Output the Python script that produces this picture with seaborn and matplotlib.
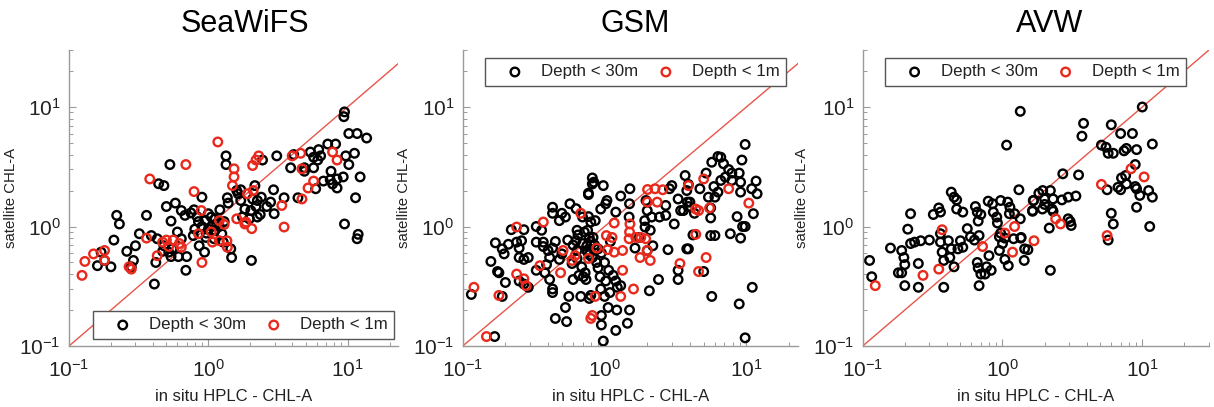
import numpy as np
import pandas as pd
import matplotlib
matplotlib.use("Agg")
import matplotlib.pyplot as plt
import seaborn as sns
from matplotlib.ticker import FuncFormatter, LogLocator, NullFormatter

# ---------------- data: (in situ HPLC chl-a, satellite chl-a) ----------------
seawifs_deep_insitu = [1.34, 1.34, 0.53, 0.44, 0.48, 0.90, 0.58, 0.50, 0.64, 0.68, 0.79, 0.83, 0.54, 0.36,
                       0.22, 0.23, 0.32, 0.39, 0.21, 0.30, 0.26, 0.17, 0.18, 0.16, 0.20, 0.29, 0.28, 0.42,
                       0.41, 0.69, 0.61, 0.70, 0.54, 0.43, 0.48, 0.52, 0.64, 0.78, 0.96, 0.86, 0.94, 1.06,
                       1.12, 1.21, 1.00, 0.95, 1.12, 1.25, 1.37, 1.39, 1.47, 1.45, 1.28, 1.10, 1.60,
                       9.5, 9.4, 10.2, 11.7, 13.7, 7.2, 8.2, 6.2, 5.4, 5.7, 6.4, 6.1, 4.1, 3.1, 2.45, 3.9,
                       4.9, 5.7, 4.9, 9.7, 11.2, 10.2, 7.6, 7.5, 8.4, 9.3, 6.7, 7.8, 8.4, 5.9, 12.3, 11.4,
                       9.5, 11.9, 11.7, 4.4, 3.5, 2.94, 2.8, 2.4, 2.63, 2.97, 2.25, 2.2, 2.02, 2.36, 1.97,
                       2.25, 1.71, 1.64, 1.71, 2.08, 2.16, 1.83, 1.76, 2.04,
                       0.90, 1.00, 1.15, 0.85, 1.05, 0.97, 1.20, 0.80, 1.30, 0.75, 0.60, 0.55, 0.47]
seawifs_deep_sat = [3.9, 3.3, 3.3, 2.28, 2.2, 1.76, 1.57, 1.47, 1.36, 1.24, 1.38, 1.21, 1.11, 1.24,
                    1.24, 1.05, 0.87, 0.84, 0.77, 0.69, 0.62, 0.61, 0.52, 0.47, 0.46, 0.52, 0.46, 0.50,
                    0.33, 0.43, 0.56, 0.56, 0.56, 0.79, 0.69, 0.61, 0.79, 0.84, 0.81, 0.69, 0.61, 1.00,
                    1.16, 1.38, 1.28, 1.12, 0.93, 0.87, 1.74, 1.57, 0.55, 0.65, 0.74, 0.79, 2.00,
                    9.1, 8.3, 6.0, 6.0, 5.5, 4.9, 4.9, 4.4, 4.2, 3.8, 3.9, 3.6, 4.0, 3.9, 3.6, 3.1,
                    3.1, 3.1, 2.9, 3.9, 4.1, 3.3, 2.9, 2.46, 2.5, 2.6, 2.4, 2.27, 2.1, 2.07, 2.6, 1.74,
                    1.05, 0.86, 0.79, 1.74, 1.74, 2.03, 1.6, 1.76, 1.47, 1.28, 1.65, 1.47, 1.36, 1.26, 1.16,
                    1.2, 2.03, 1.88, 1.65, 1.7, 2.2, 1.4, 1.2, 0.52,
                    1.00, 0.95, 1.05, 1.10, 1.20, 0.88, 1.00, 0.95, 1.10, 1.30, 0.90, 0.65, 0.62]
seawifs_surf_insitu = [0.124, 0.13, 0.15, 0.18, 0.18, 0.27, 0.28, 0.38, 0.36, 0.43, 0.47, 0.50, 0.56, 0.64,
                       0.69, 0.79, 0.89, 0.90, 0.85, 1.05, 1.07, 1.17, 1.20, 1.20, 1.30, 1.36, 1.53, 1.53,
                       1.49, 1.60, 1.86, 1.91, 2.08, 2.20, 2.30, 2.05, 2.10, 3.37, 3.50, 4.0, 4.6, 4.7, 4.7,
                       5.2, 5.7, 7.8, 8.4, 1.83, 1.37, 0.62, 0.52]
seawifs_surf_sat = [0.39, 0.51, 0.59, 0.63, 0.52, 0.46, 0.44, 2.5, 0.80, 0.57, 0.74, 0.77, 0.77, 0.67,
                    3.3, 1.96, 1.36, 0.50, 0.87, 0.90, 0.74, 5.1, 1.12, 0.76, 1.04, 0.76, 3.04, 2.6,
                    2.2, 1.16, 1.09, 1.88, 3.24, 3.6, 3.9, 0.96, 2.0, 1.5, 0.99, 3.9, 4.1, 3.04, 1.7,
                    2.1, 2.4, 4.2, 3.6, 1.05, 0.67, 0.72, 0.68]

gsm_deep_insitu = [0.115, 0.168, 0.158, 0.176, 0.18, 0.19, 0.17, 0.19, 0.196, 0.21, 0.20, 0.22, 0.24, 0.25,
                   0.26, 0.27, 0.25, 0.27, 0.29, 0.25, 0.27, 0.29, 0.33, 0.33, 0.33, 0.37, 0.37, 0.36,
                   0.40, 0.41, 0.39, 0.38, 0.41, 0.43, 0.43, 0.43, 0.43, 0.48, 0.50, 0.57, 0.53, 0.45,
                   0.50, 0.48, 0.43, 0.55, 0.63, 0.64, 0.64, 0.64, 0.59, 0.66, 0.60, 0.56, 0.53, 0.45,
                   0.54, 0.68, 0.70, 0.63, 0.76, 0.78, 0.75, 0.74, 0.78, 0.80, 0.77, 0.84,
                   0.82, 0.82, 0.98, 0.77, 1.02, 0.94, 1.04, 1.30, 1.51, 1.50, 1.20, 1.49, 0.77, 0.86,
                   0.83, 0.75, 0.76, 0.82, 0.69, 0.73, 0.71, 0.93, 1.07, 1.15, 1.02, 1.20, 1.23, 0.94,
                   1.09, 1.30, 0.80, 1.00, 1.06, 1.22, 0.95, 0.95, 1.20, 1.45, 1.50, 0.98, 2.07, 2.4,
                   2.8, 3.3, 3.3, 1.93, 1.92, 2.15, 2.44, 2.7, 3.1, 2.7, 3.3, 2.87, 2.98, 3.44, 3.84,
                   3.9, 3.9, 1.76, 2.19, 2.0, 2.1, 1.64, 1.96, 2.0,
                   9.8, 6.3, 6.6, 5.7, 6.9, 7.5, 7.9, 8.9, 9.3, 7.1, 6.6, 7.9, 9.1, 11.7, 10.9, 11.9,
                   9.1, 5.9, 6.3, 6.0, 5.4, 4.7, 5.2, 3.7, 3.8, 4.0, 3.9, 3.6, 4.3, 5.6, 5.6, 8.6, 9.4,
                   9.8, 9.1, 11.2, 7.7, 4.2, 5.6, 6.0, 3.8, 5.0, 5.7, 8.9, 11.0, 9.8,
                   0.72, 0.80, 0.85, 0.90, 0.70, 0.78, 0.88, 0.95, 0.65, 0.60, 1.10, 1.00, 0.90]
gsm_deep_sat = [0.27, 0.12, 0.51, 0.42, 0.41, 0.26, 0.73, 0.65, 0.59, 0.71, 0.34, 0.94, 0.74, 0.66,
                0.76, 0.94, 0.55, 0.53, 0.55, 0.35, 0.33, 0.31, 1.00, 0.74, 0.43, 0.74, 0.68, 0.93,
                0.63, 0.55, 0.48, 0.41, 0.36, 0.30, 0.28, 1.45, 1.29, 1.12, 1.29, 1.55, 1.20, 0.75,
                0.59, 0.53, 0.66, 0.77, 0.76, 0.93, 0.63, 0.54, 0.49, 0.39, 0.36, 0.26, 0.21, 0.17,
                0.16, 0.26, 1.20, 1.41, 0.93, 0.81, 0.63, 0.36, 0.25, 1.09, 1.85, 2.35,
                2.55, 2.27, 2.2, 1.9, 1.55, 1.4, 1.65, 1.8, 2.07, 1.55, 1.32, 1.2, 1.21, 1.12,
                0.81, 0.69, 0.61, 0.55, 0.46, 0.41, 0.38, 0.38, 0.43, 0.39, 0.35, 0.35, 0.31, 0.30,
                0.28, 0.32, 0.265, 0.26, 0.21, 0.20, 0.18, 0.15, 0.135, 0.155, 0.20, 0.11, 0.29, 0.36,
                0.64, 0.43, 0.36, 0.99, 1.12, 1.2, 1.2, 1.24, 1.05, 1.5, 1.7, 2.07, 2.2, 1.36, 1.6,
                0.65, 2.25, 0.81, 0.69, 0.63, 0.93, 0.66, 1.65, 1.36,
                4.86, 3.85, 3.8, 3.45, 3.35, 3.0, 2.8, 2.8, 3.6, 2.59, 2.43, 2.43, 2.35, 2.4, 2.07, 1.88,
                1.94, 2.16, 1.94, 1.76, 1.76, 2.07, 2.8, 2.67, 2.0, 1.6, 1.47, 1.36, 1.29, 1.43, 1.18,
                1.21, 1.0, 1.0, 0.80, 1.28, 0.87, 0.85, 0.84, 0.84, 0.65, 0.42, 0.26, 0.225, 0.31, 0.117,
                0.90, 0.75, 0.70, 0.65, 0.72, 0.58, 0.50, 0.60, 0.85, 0.70, 0.75, 0.50, 0.45]
gsm_surf_insitu = [0.12, 0.147, 0.18, 0.24, 0.24, 0.27, 0.28, 0.37, 0.35, 0.49, 0.51, 0.59, 0.62, 0.68,
                   0.77, 0.80, 1.17, 1.51, 1.50, 1.49, 1.66, 1.80, 1.95, 1.03, 1.13, 0.88, 1.05, 1.17,
                   1.34, 0.86, 0.82, 1.30, 1.34, 1.60, 2.01, 2.27, 2.57, 2.0, 2.35, 2.0, 2.1, 1.78,
                   3.4, 3.9, 5.0, 7.5, 10.4, 4.4, 4.6, 5.5, 4.4, 4.6, 5.2]
gsm_surf_sat = [0.31, 0.12, 0.265, 0.99, 0.40, 0.365, 0.32, 1.09, 0.47, 0.41, 0.63, 0.52, 0.57, 1.29,
                0.54, 0.17, 1.07, 1.05, 0.90, 0.79, 0.81, 0.81, 0.79, 0.84, 0.81, 0.66, 0.64, 0.61,
                0.63, 0.26, 0.18, 0.26, 0.43, 0.30, 2.04, 2.07, 2.03, 1.6, 1.6, 0.63, 0.52, 0.55,
                0.49, 2.2, 2.5, 2.07, 1.57, 1.4, 1.36, 1.43, 0.86, 0.42, 0.55]

avw_deep_insitu = [0.112, 0.116, 0.158, 0.19, 0.197, 0.18, 0.19, 0.20, 0.20, 0.22, 0.21, 0.22, 0.235, 0.26,
                   0.30, 0.25, 0.25, 0.32, 0.35, 0.36, 0.36, 0.36, 0.37, 0.38, 0.38, 0.41, 0.43, 0.45,
                   0.47, 0.47, 0.52, 0.43, 0.42, 0.45, 0.48, 0.50, 0.52, 0.56, 0.59, 0.63, 0.64, 0.66,
                   0.70, 0.67, 0.68, 0.66, 0.67, 0.70, 0.75, 0.68, 0.80, 0.77, 0.83, 0.79, 0.85, 0.86,
                   0.91, 0.92, 0.95, 0.97, 1.00, 0.95, 0.97, 1.09, 1.13, 1.12, 1.22, 1.04, 1.04, 1.10,
                   1.20, 1.31, 1.35, 1.34, 1.43, 1.66, 1.64, 1.82, 1.44,
                   1.34, 10.0, 3.8, 3.7, 6.0, 7.0, 8.5, 11.8, 5.1, 5.5, 5.7, 6.2, 7.4, 7.7, 9.1, 8.9,
                   2.7, 3.5, 7.1, 7.6, 6.7, 7.0, 7.7, 8.9, 9.1, 9.6, 11.1, 11.8, 5.6, 9.1, 6.0, 6.2,
                   11.3, 5.7, 1.94, 2.2, 1.67, 2.0, 2.3, 2.66, 2.95, 3.35, 2.0, 2.26, 1.93, 1.64, 2.3,
                   2.95, 3.05, 3.1, 2.16, 1.36, 1.52, 1.07, 2.2]
avw_deep_sat = [0.52, 0.38, 0.66, 0.63, 0.55, 0.41, 0.41, 0.48, 0.32, 1.28, 0.95, 0.72, 0.74, 0.76,
                0.77, 0.49, 0.31, 1.26, 1.43, 1.32, 0.87, 0.74, 0.61, 0.52, 0.31, 0.76, 1.94, 1.76,
                1.67, 1.40, 1.32, 0.65, 0.55, 0.46, 0.65, 0.76, 0.67, 0.96, 0.82, 0.77, 1.47, 1.32,
                1.26, 1.11, 0.84, 0.50, 0.45, 0.40, 0.40, 0.32, 0.57, 0.46, 0.43, 1.63, 1.55, 1.32,
                1.20, 1.07, 0.82, 0.88, 0.72, 0.63, 1.65, 1.60, 1.45, 1.28, 1.28, 0.80, 0.53, 0.47,
                0.79, 2.03, 0.80, 1.16, 0.52, 1.65, 1.36, 1.90, 0.65,
                9.2, 10.0, 7.3, 5.7, 7.1, 6.0, 6.0, 4.9, 4.8, 4.6, 4.1, 4.1, 4.3, 4.5, 4.4, 3.3,
                2.76, 2.7, 2.55, 2.67, 2.13, 2.03, 2.27, 2.16, 2.07, 1.82, 2.0, 1.76, 2.03, 1.45, 1.29, 1.05,
                1.0, 0.77, 2.0, 2.0, 1.65, 1.7, 1.7, 1.67, 1.76, 1.8, 1.53, 1.4, 1.4, 1.34, 1.34,
                1.16, 1.1, 1.02, 0.97, 0.81, 0.64, 4.8, 0.43]
avw_surf_insitu = [0.123, 0.27, 0.35, 0.37, 0.72, 1.04, 1.22, 1.18, 1.68, 8.3, 10.3, 5.1, 2.4, 2.6, 5.6]
avw_surf_sat = [0.32, 0.39, 0.44, 0.94, 0.68, 0.88, 1.00, 0.61, 0.76, 3.04, 2.6, 2.25, 1.16, 1.05, 0.84]

panels = [
    ("SeaWiFS", seawifs_deep_insitu, seawifs_deep_sat, seawifs_surf_insitu, seawifs_surf_sat, 23),
    ("GSM", gsm_deep_insitu, gsm_deep_sat, gsm_surf_insitu, gsm_surf_sat, 23),
    ("AVW", avw_deep_insitu, avw_deep_sat, avw_surf_insitu, avw_surf_sat, 30),
]

# ---------------- style ----------------
sns.set_theme(style="white")
plt.rcParams["font.family"] = ["Liberation Sans", "DejaVu Sans"]
plt.rcParams["mathtext.fontset"] = "custom"
plt.rcParams["mathtext.rm"] = "Liberation Sans"
plt.rcParams["mathtext.it"] = "Liberation Sans:italic"
plt.rcParams["mathtext.bf"] = "Liberation Sans:bold"

W, H = 1214, 407
fig = plt.figure(figsize=(W / 100, H / 100), dpi=100)
fig.patch.set_facecolor("white")

# axes boxes in pixels: left, right
boxes = [(69, 398), (462.7, 797.7), (862.7, 1209)]
top_px, bottom_px = 50, 346
title_x = [245, 635, 1050]
# legend anchor (axes fraction) and corner
legend_anchor = [
    ("lower left", (0.073, 0.024)),
    ("upper left", (0.067, 0.973)),
    ("upper left", (0.064, 0.973)),
]

RED = "#e8291c"
GRAY = "#9a9a9a"


def pow10(v, pos):
    e = int(round(np.log10(v)))
    return r"$10^{%d}$" % e


for i, (name, dx, dy, sx, sy, xmax) in enumerate(panels):
    l, r = boxes[i]
    ax = fig.add_axes([l / W, (H - bottom_px) / H, (r - l) / W, (bottom_px - top_px) / H])
    ax.set_xscale("log")
    ax.set_yscale("log")

    deep = pd.DataFrame({"insitu": dx, "sat": dy})
    surf = pd.DataFrame({"insitu": sx, "sat": sy})

    # 1:1 reference line
    ax.plot([0.1, 30], [0.1, 30], color="#e8554a", lw=1.0, zorder=1)

    sns.scatterplot(data=deep, x="insitu", y="sat", ax=ax, marker="o", s=38,
                    color="black", facecolor="none", edgecolor="black", linewidth=1.7,
                    label="Depth < 30m", zorder=3)
    sns.scatterplot(data=surf, x="insitu", y="sat", ax=ax, marker="o", s=38,
                    color=RED, facecolor="none", edgecolor=RED, linewidth=1.7,
                    label="Depth < 1m", zorder=4)

    ax.set_xlim(0.1, xmax)
    ax.set_ylim(0.1, 30)

    for side in ("top", "right"):
        ax.spines[side].set_visible(False)
    for side in ("left", "bottom"):
        ax.spines[side].set_color(GRAY)
        ax.spines[side].set_linewidth(1.0)

    for axis in (ax.xaxis, ax.yaxis):
        axis.set_major_locator(LogLocator(base=10, numticks=10))
        axis.set_minor_locator(LogLocator(base=10, subs=np.arange(2, 10), numticks=20))
        axis.set_major_formatter(FuncFormatter(pow10))
        axis.set_minor_formatter(NullFormatter())

    ax.tick_params(which="both", bottom=True, left=True, top=False, right=False)
    ax.tick_params(which="major", direction="in", length=5, width=0.8, color=GRAY,
                   labelsize=15, labelcolor="#222222")
    ax.tick_params(axis="x", which="major", pad=9)
    ax.tick_params(axis="y", which="major", pad=6)
    ax.tick_params(which="minor", direction="in", length=3, width=0.7, color=GRAY)

    ax.set_xlabel("in situ HPLC - CHL-A", fontsize=12, color="#222222")
    ax.set_ylabel("satellite CHL-A", fontsize=10.8, color="#222222")
    ax.xaxis.set_label_coords(0.5, -0.145)
    ax.yaxis.set_label_coords(-0.155, 0.5)

    loc, anchor = legend_anchor[i]
    leg = ax.legend(loc=loc, bbox_to_anchor=anchor, ncol=2,
                    fontsize=12.2, frameon=True, fancybox=False, borderaxespad=0,
                    scatterpoints=1, handletextpad=0.18, columnspacing=0.25,
                    borderpad=0.38, handlelength=2.75)
    leg.get_frame().set_edgecolor("#555555")
    leg.get_frame().set_linewidth(1.0)
    leg.get_frame().set_facecolor("white")
    leg.get_frame().set_alpha(1)
    for t in leg.get_texts():
        t.set_color("#222222")

    fig.text(title_x[i] / W, 1 - 24 / H, name, ha="center", va="center",
             fontsize=22, color="black")

fig.savefig("out.png", dpi=100, facecolor="white")
